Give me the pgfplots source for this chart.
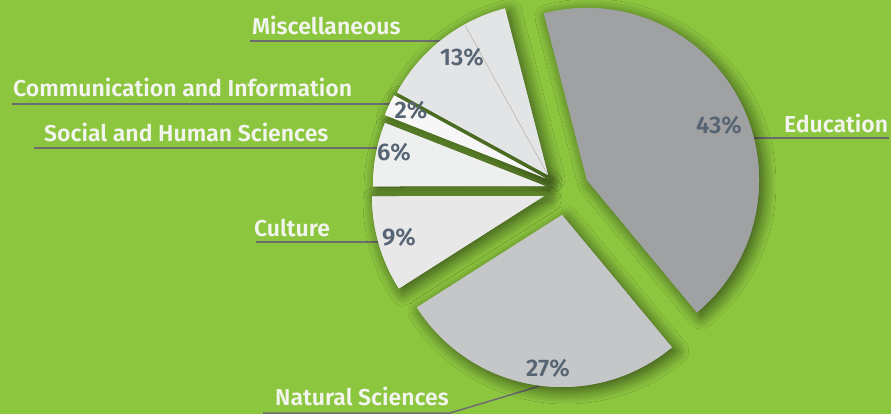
\documentclass[border=0pt]{standalone}
\usepackage{pgfplots}
\usepackage{pgfplotstable}
\pgfplotsset{compat=1.18}
\usetikzlibrary{shadows.blur}
\usepackage{fontspec}
\IfFontExistsTF{Fira Sans SemiBold}
  {\setmainfont{Fira Sans}[BoldFont={Fira Sans SemiBold}]}
  {\setmainfont{Fira Sans}}
\definecolor{bg}{HTML}{8CC63F}
\definecolor{c0}{HTML}{A0A1A3}
\definecolor{c1}{HTML}{C5C6C8}
\definecolor{c2}{HTML}{E8E8E9}
\definecolor{c3}{HTML}{EEEFEF}
\definecolor{c4}{HTML}{F7F7F7}
\definecolor{c5}{HTML}{E3E4E6}
\definecolor{pctc}{HTML}{566473}
\definecolor{labc}{HTML}{F2F4EE}
\definecolor{linec}{HTML}{6C6D70}
\definecolor{misline}{HTML}{B4B7AC}
\tikzset{
  lab/.style={labc,font=\bfseries\fontsize{23}{25}\selectfont,anchor=base west,inner sep=0pt},
  pc/.style={pctc,font=\bfseries\fontsize{24}{26}\selectfont,inner sep=0pt}}

% slices clockwise from the top: Education, Natural Sciences, Culture,
% Social and Human Sciences, Communication and Information, Miscellaneous
\pgfplotstableread{
pct dx dy
43 37 -5
27 12 30
9 -6 11
6 -5 1
2 -5 -7
13 -2 -10
}\slicetable
\pgfplotstablecreatecol[create col/expr accum={\pgfmathaccuma + \thisrow{pct}}{0}]{cum}\slicetable
\def\startangle{104.5}

\begin{document}
\begin{tikzpicture}
\useasboundingbox (0,0) rectangle (891pt,414pt);
\begin{axis}[width=891pt,height=414pt,scale only axis,
  xmin=0,xmax=891,ymin=0,ymax=414,y dir=reverse,
  axis lines=none,ticks=none]
\fill[bg] (rel axis cs:0,0) rectangle (rel axis cs:1,1);
% leader lines
\draw[linec,line width=1.5pt] (axis cs:250,41) -- (axis cs:440,41);
\draw[linec,line width=1.5pt] (axis cs:12,104) -- (axis cs:392,104);
\draw[linec,line width=1.5pt] (axis cs:34,148) -- (axis cs:377,148);
\draw[linec,line width=1.5pt] (axis cs:256,242) -- (axis cs:380,242);
\draw[linec,line width=1.5pt] (axis cs:263,413) -- (axis cs:450,413) -- (axis cs:540,386);
\draw[linec,line width=1.5pt] (axis cs:753,138) -- (axis cs:889,138);
% shadows
\pgfplotsinvokeforeach{0,...,5}{
  \pgfplotstablegetelem{#1}{pct}\of\slicetable \let\slp\pgfplotsretval
  \pgfplotstablegetelem{#1}{cum}\of\slicetable \let\slc\pgfplotsretval
  \pgfplotstablegetelem{#1}{dx}\of\slicetable \let\sldx\pgfplotsretval
  \pgfplotstablegetelem{#1}{dy}\of\slicetable \let\sldy\pgfplotsretval
  \pgfmathsetmacro\sla{\startangle-3.6*(\slc-\slp)}
  \pgfmathsetmacro\slb{\startangle-3.6*\slc}
  \pgfmathsetmacro\slx{550+\sldx}
  \pgfmathsetmacro\sly{185+\sldy}
  \edef\temp{\noexpand\fill[c#1, blur shadow={shadow xshift=4pt, shadow yshift=-4pt, shadow blur radius=13pt, shadow blur steps=16, shadow opacity=62}] (axis cs:\slx,\sly) -- ++(\sla:172pt) arc[start angle=\sla, end angle=\slb, radius=172pt] -- cycle;}
  \temp
}
% slices
\pgfplotsinvokeforeach{0,...,5}{
  \pgfplotstablegetelem{#1}{pct}\of\slicetable \let\slp\pgfplotsretval
  \pgfplotstablegetelem{#1}{cum}\of\slicetable \let\slc\pgfplotsretval
  \pgfplotstablegetelem{#1}{dx}\of\slicetable \let\sldx\pgfplotsretval
  \pgfplotstablegetelem{#1}{dy}\of\slicetable \let\sldy\pgfplotsretval
  \pgfmathsetmacro\sla{\startangle-3.6*(\slc-\slp)}
  \pgfmathsetmacro\slb{\startangle-3.6*\slc}
  \pgfmathsetmacro\slx{550+\sldx}
  \pgfmathsetmacro\sly{185+\sldy}
  \edef\temp{\noexpand\fill[c#1] (axis cs:\slx,\sly) -- ++(\sla:172pt) arc[start angle=\sla, end angle=\slb, radius=172pt] -- cycle;}
  \temp
}
\draw[misline,line width=0.6pt] (axis cs:548,175) -- ++(119:170pt);
% labels
\node[lab] at (axis cs:252,35) {Miscellaneous};
\node[lab] at (axis cs:13,97) {Communication and Information};
\node[lab] at (axis cs:44,142) {Social and Human Sciences};
\node[lab] at (axis cs:254,236) {Culture};
\node[lab] at (axis cs:275,405) {Natural Sciences};
\node[lab] at (axis cs:784,133) {Education};
% percentages
\node[pc] at (axis cs:462,57) {13\%};
\node[pc] at (axis cs:411,110) {2\%};
\node[pc] at (axis cs:394,152) {6\%};
\node[pc] at (axis cs:399,237) {9\%};
\node[pc] at (axis cs:548,368) {27\%};
\node[pc] at (axis cs:719,125) {43\%};
\end{axis}
\end{tikzpicture}
\end{document}
